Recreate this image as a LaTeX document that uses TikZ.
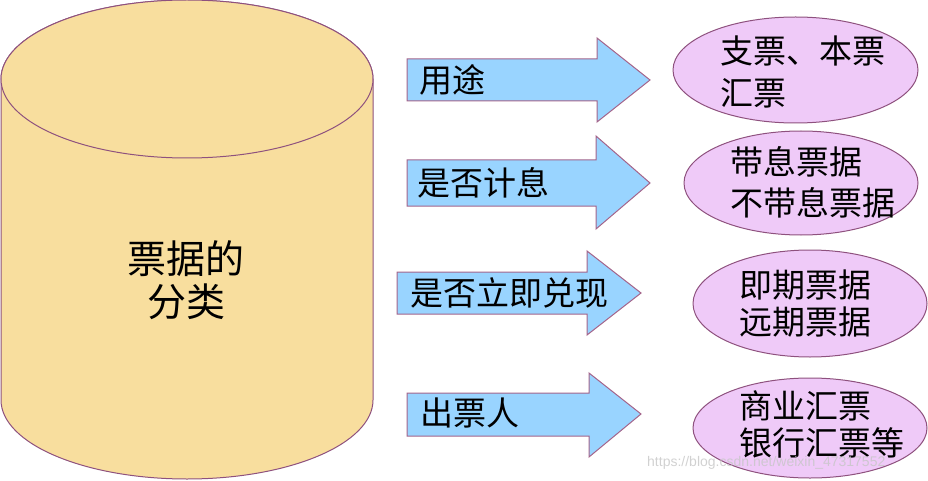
\documentclass[tikz,border=0pt]{standalone}
\usepackage{fontspec}
\newfontfamily\cjk{Noto Sans CJK SC}
\newfontfamily\wmfont{Liberation Sans}
\definecolor{cylfill}{HTML}{F8DE9E}
\definecolor{edgepurple}{HTML}{8E517E}
\definecolor{arrowfill}{HTML}{99D4FF}
\definecolor{arrowedge}{HTML}{A4648A}
\definecolor{ellfill}{HTML}{EFCAF8}
\tikzset{
  cylbody/.style={fill=cylfill, draw=edgepurple, line width=1pt},
  blockarr/.style={fill=arrowfill, draw=arrowedge, line width=1pt, line join=miter},
  leaf/.style={fill=ellfill, draw=edgepurple, line width=1pt},
  lbl/.style={anchor=west, inner sep=0pt, font=\cjk\fontsize{33}{40}\selectfont},
  mainlbl/.style={align=center, inner sep=0pt, font=\cjk\fontsize{39}{47}\selectfont}
}
\begin{document}
\begin{tikzpicture}[x=1pt,y=-1pt]
\useasboundingbox (0,0) rectangle (928,481);
% cylinder
\path[cylbody] (1,79) -- (1,400) arc[start angle=180, end angle=360, x radius=186pt, y radius=79pt] -- (373,79) arc[start angle=0, end angle=180, x radius=186pt, y radius=79pt] -- cycle;
\draw[cylbody] (187,79) ellipse[x radius=186pt, y radius=79pt];
\node[mainlbl] (cyl) at (186,280) {票据的\\[-4pt]分类};
% arrows
\path[blockarr] (407,59) -- (597,59) -- (597,38) -- (650,80) -- (597,122) -- (597,101) -- (407,101) -- cycle;
\path[blockarr] (407,160) -- (596,160) -- (596,136) -- (650,183) -- (596,229) -- (596,206) -- (407,206) -- cycle;
\path[blockarr] (397,272) -- (587,272) -- (587,251) -- (641,293) -- (587,335) -- (587,314) -- (397,314) -- cycle;
\path[blockarr] (407,393) -- (589,393) -- (589,373) -- (641,414) -- (589,457) -- (589,436) -- (407,436) -- cycle;
\node[lbl] (a1) at (419,80) {用途};
\node[lbl] (a2) at (417,183) {是否计息};
\node[lbl] (a3) at (410,293) {是否立即兑现};
\node[lbl] (a4) at (420,413) {出票人};
% ellipses
\draw[leaf] (795.5,70) ellipse[x radius=122.5pt, y radius=53pt];
\draw[leaf] (801,183) ellipse[x radius=117pt, y radius=52pt];
\draw[leaf] (810,303.5) ellipse[x radius=117pt, y radius=53.5pt];
\draw[leaf] (810,428) ellipse[x radius=117pt, y radius=50pt];
\node[lbl] (e1a) at (720,51) {支票、本票};
\node[lbl] (e1b) at (720,93) {汇票};
\node[lbl] (e2a) at (730,162) {带息票据};
\node[lbl] (e2b) at (730,203) {不带息票据};
\node[lbl] (e3a) at (739,285) {即期票据};
\node[lbl] (e3b) at (739,322) {远期票据};
\node[lbl] (e4a) at (739,406) {商业汇票};
\node[lbl] (e4b) at (739,443) {银行汇票等};
% watermark
\node[anchor=west, inner sep=0pt, text=gray!45, opacity=0.8, font=\wmfont\fontsize{14}{16}\selectfont] (wm) at (647,463) {https://blog.csdn.net/weixin\_47317552};
\end{tikzpicture}
\end{document}
